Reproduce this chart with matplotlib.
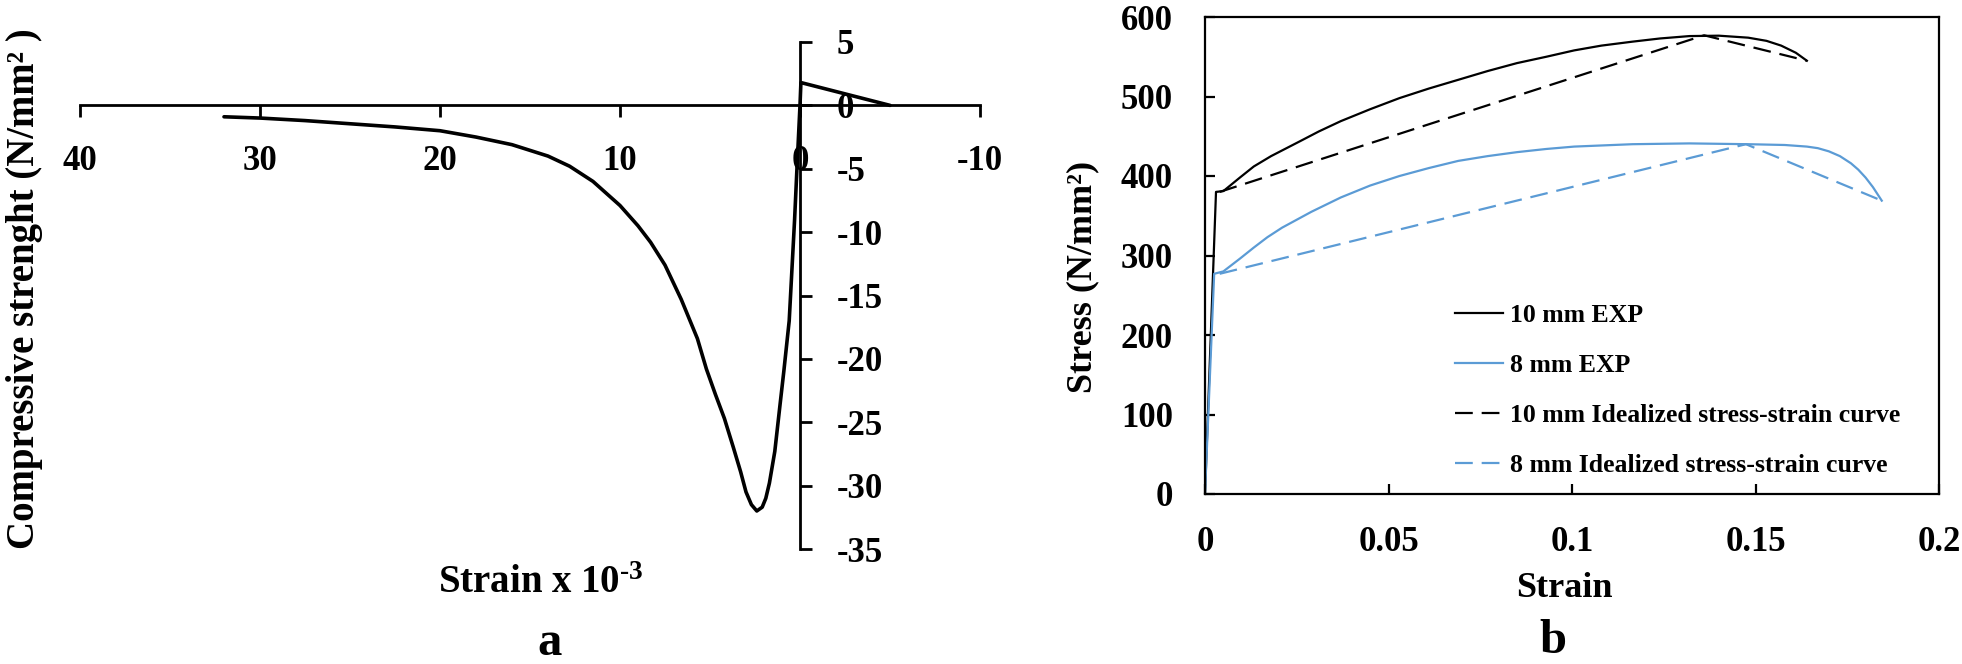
import matplotlib
matplotlib.use('Agg')
import matplotlib.pyplot as plt

plt.rcParams['font.family'] = ['Liberation Serif', 'DejaVu Serif']
plt.rcParams['font.weight'] = 'bold'
plt.rcParams['axes.unicode_minus'] = False
plt.rcParams['mathtext.fontset'] = 'custom'
plt.rcParams['mathtext.rm'] = 'Liberation Serif:bold'
plt.rcParams['mathtext.bf'] = 'Liberation Serif:bold'
plt.rcParams['mathtext.default'] = 'rm'

# ---------------- Panel a data (concrete) ----------------
conc_strain = [32, 30, 27.5, 25, 22.5, 20, 18, 16, 14, 12.8, 11.5, 10, 9, 8.3, 7.5, 6.6, 5.7,
               5.2, 4.7, 4.2, 3.7, 3.3, 3.0, 2.7, 2.4, 2.1, 1.9, 1.7, 1.4, 1.1, 0.9, 0.6, 0.3,
               0.17, 0, -0.05, -5]
conc_stress = [-0.9, -1.0, -1.2, -1.45, -1.7, -2.0, -2.5, -3.1, -4.0, -4.8, -6.0, -7.9, -9.5,
               -10.8, -12.6, -15.3, -18.4, -20.8, -22.8, -24.7, -27.0, -28.9, -30.5, -31.5,
               -32.0, -31.7, -31.0, -29.8, -27.3, -23.5, -21.0, -17.0, -9.0, -5.0, 0, 1.8, 0]
a_xticks = [40, 30, 20, 10, 0, -10]
a_xticklabels = ['40', '30', '20', '10', '0', '-10']
a_yticks = [5, 0, -5, -10, -15, -20, -25, -30, -35]
a_yticklabels = ['5', '0', '-5', '-10', '-15', '-20', '-25', '-30', '-35']

# ---------------- Panel b data (steel) ----------------
exp10_strain = [0, 0.003, 0.005, 0.0095, 0.0133, 0.018, 0.026, 0.031, 0.037, 0.045, 0.053,
                0.061, 0.069, 0.077, 0.085, 0.093, 0.1006, 0.108, 0.1165, 0.124, 0.132,
                0.140, 0.148, 0.153, 0.157, 0.161, 0.164]
exp10_stress = [0, 380, 381, 398, 412, 425, 444, 456, 469, 484, 498,
                510, 521, 532, 542, 550, 558, 564, 569, 573, 576,
                576.5, 574, 570, 564, 555, 545]
ideal10_strain = [0.004, 0.136, 0.164]
ideal10_stress = [380, 577, 545]

exp8_strain = [0, 0.0025, 0.005, 0.0095, 0.0133, 0.017, 0.021, 0.029, 0.037, 0.045, 0.053,
               0.061, 0.069, 0.077, 0.085, 0.093, 0.1006, 0.1165, 0.132, 0.148, 0.158,
               0.164, 0.167, 0.170, 0.173, 0.176, 0.178, 0.180, 0.182, 0.1844]
exp8_stress = [0, 277, 280, 296, 310, 323, 335, 355, 373, 388, 400,
               410, 419, 425, 430, 434, 437, 440, 441, 440, 439,
               437, 435, 431, 425, 416, 408, 398, 386, 369]
ideal8_strain = [0.004, 0.1474, 0.1844]
ideal8_stress = [277, 440, 369]

b_xticks = [0, 0.05, 0.1, 0.15, 0.2]
b_xticklabels = ['0', '0.05', '0.1', '0.15', '0.2']
b_yticks = [0, 100, 200, 300, 400, 500, 600]
legend_labels = ['10 mm EXP', '8 mm EXP', '10 mm Idealized stress-strain curve',
                 '8 mm Idealized stress-strain curve']

BLUE = '#5B9BD5'
W, H = 1962, 664
fig = plt.figure(figsize=(W / 100, H / 100), dpi=100)

def fx(px):
    return px / W

def fy(py):
    return 1 - py / H

# ---------------- Panel a ----------------
axa = fig.add_axes([fx(80), fy(549), fx(980) - fx(80), fy(42) - fy(549)])
axa.plot(conc_strain, conc_stress, color='black', lw=2.6, solid_joinstyle='round',
         solid_capstyle='round')
axa.set_xlim(40, -10)
axa.set_ylim(-35, 5)
axa.spines['top'].set_visible(False)
axa.spines['left'].set_visible(False)
axa.spines['right'].set_position(('data', 0))
axa.spines['bottom'].set_position(('data', 0))
for s in ('right', 'bottom'):
    axa.spines[s].set_linewidth(2.0)
axa.yaxis.set_ticks_position('right')
axa.xaxis.set_ticks_position('bottom')
axa.set_xticks(a_xticks)
axa.set_xticklabels(a_xticklabels)
axa.set_yticks(a_yticks)
axa.set_yticklabels(a_yticklabels)
axa.tick_params(axis='x', direction='out', length=8.5, width=2.0, pad=20, labelsize=25)
axa.tick_params(axis='y', direction='out', length=8.5, width=2.0, pad=18, labelsize=25)
axa.patch.set_alpha(0)

fig.text(fx(25), fy(289), 'Compressive strenght (N/mm\u00b2 )', rotation=90,
         ha='center', va='center', fontsize=28, fontweight='bold')
fig.text(fx(541), fy(593), 'Strain x 10$^{\\text{-3}}$', ha='center', va='baseline',
         fontsize=28, fontweight='bold')
fig.text(fx(550), fy(655), 'a', ha='center', va='baseline', fontsize=35, fontweight='bold')

# ---------------- Panel b ----------------
axb = fig.add_axes([fx(1205), fy(494), fx(1939) - fx(1205), fy(17) - fy(494)])
axb.plot(exp10_strain, exp10_stress, color='black', lw=1.6, label=legend_labels[0])
axb.plot(exp8_strain, exp8_stress, color=BLUE, lw=1.6, label=legend_labels[1])
axb.plot(ideal10_strain, ideal10_stress, color='black', lw=1.6, dashes=(8, 4),
         label=legend_labels[2])
axb.plot(ideal8_strain, ideal8_stress, color=BLUE, lw=1.6, dashes=(8, 4),
         label=legend_labels[3])
axb.set_xlim(0, 0.2)
axb.set_ylim(0, 600)
axb.set_xticks(b_xticks)
axb.set_xticklabels(b_xticklabels)
axb.set_yticks(b_yticks)
for s in axb.spines.values():
    s.set_linewidth(1.6)
axb.tick_params(axis='both', direction='in', length=7, width=1.6, labelsize=25)
axb.tick_params(axis='x', pad=23)
axb.tick_params(axis='y', pad=23)

leg = axb.legend(loc='upper left', bbox_to_anchor=(fx(1455), fy(304)),
                 bbox_transform=fig.transFigure, frameon=False, fontsize=18.5,
                 handlelength=1.85, handletextpad=0.3, labelspacing=1.05,
                 borderpad=0, borderaxespad=0)

fig.text(fx(1083), fy(277), 'Stress (N/mm\u00b2)', rotation=90, ha='center', va='center',
         fontsize=26, fontweight='bold')
fig.text(fx(1564), fy(597), 'Strain', ha='center', va='baseline', fontsize=26,
         fontweight='bold')
fig.text(fx(1553), fy(653), 'b', ha='center', va='baseline', fontsize=35, fontweight='bold')

fig.savefig('out.png', dpi=100, facecolor='white')
